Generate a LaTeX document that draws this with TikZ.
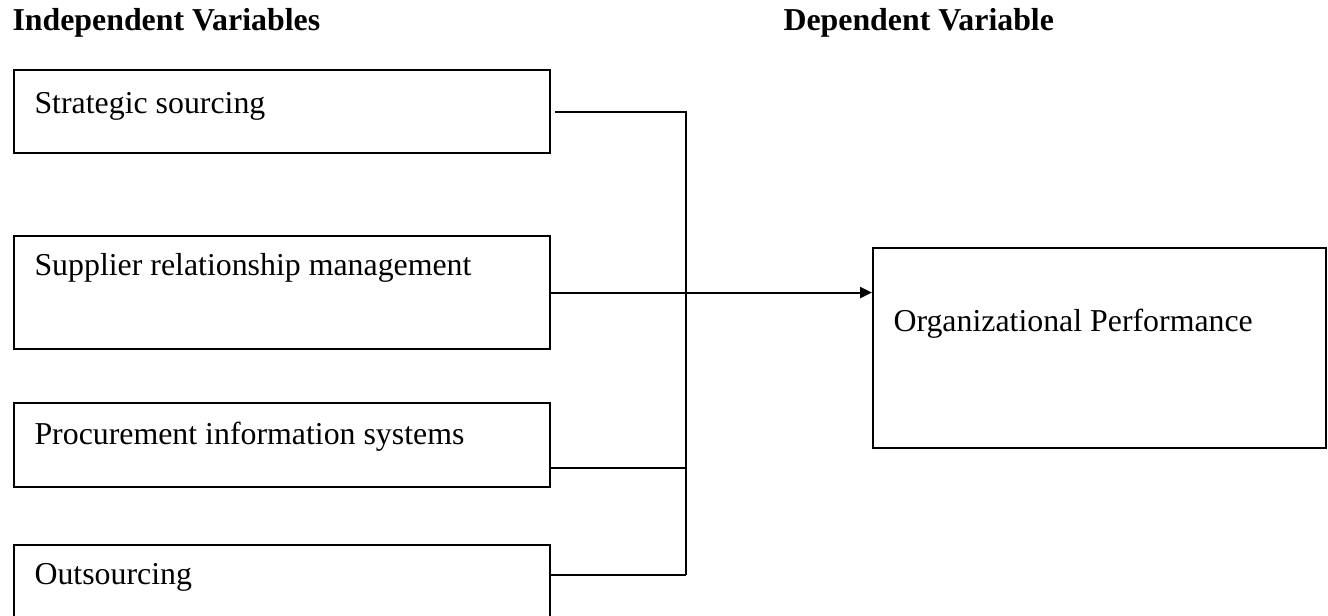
\documentclass[tikz,border=0pt]{standalone}
\usepackage{fontspec}
\setmainfont{Liberation Serif}
\usetikzlibrary{arrows.meta}
\usetikzlibrary{positioning}
\usetikzlibrary{calc}
\def\px{0.3768pt}
\tikzstyle{varbox}=[draw,line width=0.8pt,rectangle,anchor=north west,inner sep=0pt]
\tikzstyle{boxtext}=[anchor=base west,inner sep=0pt,font=\fontsize{12}{14}\selectfont]
\tikzstyle{heading}=[anchor=base west,inner sep=0pt,font=\fontsize{12}{14}\selectfont\bfseries]
\tikzstyle{link}=[draw,line width=0.8pt]

\begin{document}
\begin{tikzpicture}[x=0.3768pt,y=-0.3768pt]

    \useasboundingbox (0,0) rectangle (1328,615);
    \clip (0,0) rectangle (1328,615);

    \node[heading] (hind) at (12,30) {Independent Variables};
    \node[heading] (hdep) at (783,30) {Dependent Variable};

    % independent variables
    \foreach \name/\yy/\high/\ty/\txt in { b1/69/83/113/Strategic sourcing, b2/235/113/275/Supplier relationship management, b3/402/84/444/Procurement information systems, b4/544/90/584/Outsourcing }
    {
        \node[varbox, minimum width=536*\px, minimum height=\high*\px] (\name) at (13,\yy) {};
        \node[boxtext] (\name t) at (34,\ty) {\txt};
    }

    % dependent variable
    \node[varbox, minimum width=453*\px, minimum height=200*\px] (perf) at (872,247) {};
    \node[boxtext] (perft) at (893,331) {Organizational Performance};

    \coordinate (j3) at (686,468);
    \coordinate (bus) at (686,575);

    \path[link, shorten <=4*\px] (b1.east) -| (bus);
    \path[link] (b3.east |- j3) -- (j3);
    \path[link] (b4.east |- bus) -- (bus);
    \path[link, -{Triangle[length=12*\px, width=11*\px]}] (b2.east) -- (perf.west |- b2.east);

\end{tikzpicture}
\end{document}
